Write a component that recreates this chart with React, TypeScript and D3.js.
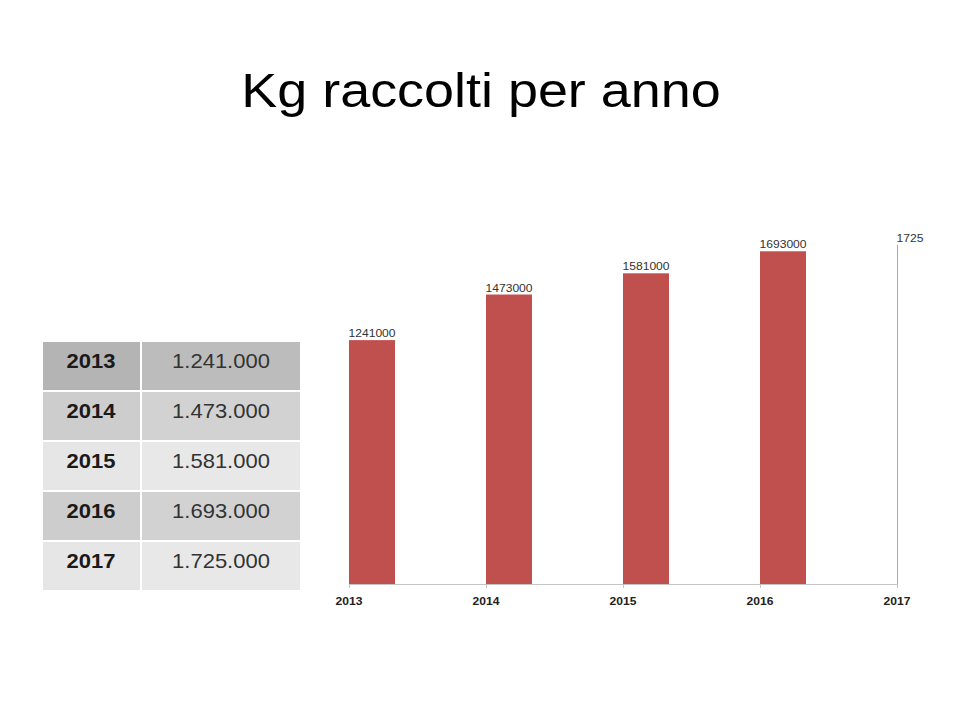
import { useEffect, useRef } from 'react'
import * as d3 from 'd3'

const years = [2013, 2014, 2015, 2016, 2017]
const kgCollected = [1241000, 1473000, 1581000, 1693000, 1725000]
// the last label is cut short in the original slide
const barLabels = ['1241000', '1473000', '1581000', '1693000', '1725']
const tableYearFill = ['#b4b4b4', '#cdcdcd', '#e6e6e6', '#cdcdcd', '#e6e6e6']
const tableValueFill = ['#bcbcbc', '#d2d2d2', '#e8e8e8', '#d2d2d2', '#e8e8e8']

const W = 974
const H = 708
const STRETCH = 1.1
const FONT = "'Liberation Sans', Arial, sans-serif"

const itFormat = d3.formatLocale({
  decimal: ',',
  thousands: '.',
  grouping: [3],
  currency: ['', ' €'],
}).format(',d')

const App = () => {
  const ref = useRef<SVGSVGElement | null>(null)

  useEffect(() => {
    if (!ref.current) return
    const svg = d3.select(ref.current)
    svg.selectAll('*').remove()

    svg.append('rect').attr('width', W).attr('height', H).attr('fill', '#ffffff')

    const stretchedText = (
      parent: d3.Selection<any, any, any, any>,
      x: number,
      y: number,
      text: string,
      size: number,
      anchor = 'middle',
      weight = 'normal',
      fill = '#000'
    ) =>
      parent
        .append('text')
        .attr('transform', `translate(${x},${y}) scale(${STRETCH},1)`)
        .attr('text-anchor', anchor)
        .attr('font-family', FONT)
        .attr('font-size', size)
        .attr('font-weight', weight)
        .attr('fill', fill)
        .text(text)

    // title
    stretchedText(svg, 481, 107, 'Kg raccolti per anno', 49, 'middle', 'normal', '#000')

    // table
    const table = svg.append('g')
    const rowY = d3.scaleBand<number>().domain(years).range([342, 592])
    const colX = [43, 141, 300]
    years.forEach((year, i) => {
      const y0 = rowY(year) ?? 0
      const h = rowY.bandwidth()
      table
        .append('rect')
        .attr('x', colX[0])
        .attr('y', y0)
        .attr('width', colX[1] - colX[0] - 1)
        .attr('height', h - 2)
        .attr('fill', tableYearFill[i])
      table
        .append('rect')
        .attr('x', colX[1] + 1)
        .attr('y', y0)
        .attr('width', colX[2] - colX[1] - 1)
        .attr('height', h - 2)
        .attr('fill', tableValueFill[i])
      stretchedText(table, 91, y0 + 19, String(year), 20, 'middle', 'bold', '#1a1a1a').attr(
        'dy',
        '0.35em'
      )
      stretchedText(table, 221, y0 + 19, itFormat(kgCollected[i]), 20, 'middle', 'normal', '#333').attr(
        'dy',
        '0.35em'
      )
    })

    // chart
    const left = 349
    const right = 897
    const baseline = 584
    const barWidth = 46
    const x = d3.scaleLinear().domain([2013, 2017]).range([left, right])
    const y = d3.scaleLinear().domain([0, d3.max(kgCollected) ?? 0]).range([baseline, 245])

    svg
      .append('clipPath')
      .attr('id', 'plot-clip')
      .append('rect')
      .attr('x', left - 1)
      .attr('y', 0)
      .attr('width', right - left + 1.6)
      .attr('height', baseline)

    const chart = svg.append('g')

    chart
      .append('g')
      .attr('clip-path', 'url(#plot-clip)')
      .selectAll('rect')
      .data(years)
      .join('rect')
      .attr('x', (d) => x(d))
      .attr('y', (_, i) => y(kgCollected[i]))
      .attr('width', barWidth)
      .attr('height', (_, i) => baseline - y(kgCollected[i]))
      .attr('fill', '#c0504d')

    years.forEach((year, i) => {
      stretchedText(chart, x(year) - 0.5, y(kgCollected[i]) - 3, barLabels[i], 11, 'start', 'normal', '#333')
    })

    const axis = chart
      .append('g')
      .attr('transform', `translate(0,${baseline})`)
      .call(
        d3
          .axisBottom(x)
          .tickValues(years)
          .tickSize(4)
          .tickSizeOuter(0)
          .tickFormat(() => '')
      )
    axis.select('.domain').attr('stroke', '#c4c4c4')
    axis.selectAll('.tick line').attr('stroke', '#c4c4c4')

    years.forEach((year) => {
      stretchedText(chart, x(year), 605, String(year), 11, 'middle', 'bold', '#222')
    })
  }, [])

  return (
    <div style={{ position: 'absolute', left: 0, top: 0 }}>
      <svg ref={ref} width={W} height={H} style={{ display: 'block' }} />
    </div>
  )
}

export default App
